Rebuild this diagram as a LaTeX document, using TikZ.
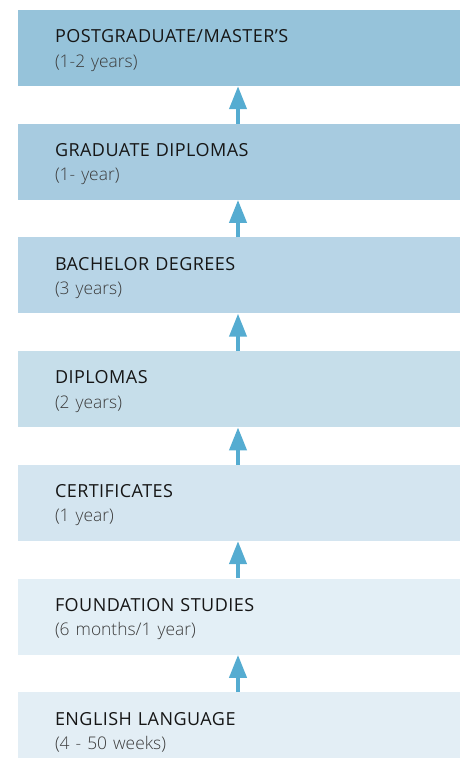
\documentclass[tikz,border=0pt]{standalone}
\usepackage{fontspec}
\setmainfont{Open Sans}[LetterSpace=2.5]
\newfontfamily\lightfont{Open Sans Light}
\usetikzlibrary{arrows.meta, positioning}
\definecolor{stageA}{HTML}{96C3DA}
\definecolor{stageB}{HTML}{A7CBE0}
\definecolor{stageC}{HTML}{B8D5E7}
\definecolor{stageD}{HTML}{C6DEEA}
\definecolor{stageE}{HTML}{D4E5F0}
\definecolor{stageF}{HTML}{E3EFF6}
\definecolor{stageG}{HTML}{E3EEF5}
\definecolor{arrowblue}{HTML}{55ACD1}
\definecolor{titletext}{HTML}{161616}
\definecolor{subtext}{HTML}{3C3C3C}
\tikzstyle{arrow} = [line width=4pt, draw=arrowblue, -{Triangle[width=17pt,length=23pt]}]
\tikzset{
stage/.style={rectangle, minimum width=442pt, minimum height=76pt, text width=368pt, inner xsep=37pt, inner ysep=0pt, align=left, text height=17pt, text depth=27.6pt, text=titletext, font=\fontsize{18}{24.3}\selectfont}
}
\newcommand{\dur}[1]{{\lightfont\color{subtext}\fontsize{17.4}{24.3}\selectfont #1}}

\begin{document}
\begin{tikzpicture}[x=1pt, y=1pt, node distance=37.33pt]
\useasboundingbox (0,0) rectangle (465,-758);
%----------------------------------------------------------------------------
% Placement of stage nodes
\node (postgrad) [stage, fill=stageA] at (239,-48) {POSTGRADUATE/MASTER'S\\ \dur{(1-2 years)}};
\node (graddip) [stage, fill=stageB, below=of postgrad] {GRADUATE DIPLOMAS\\ \dur{(1- year)}};
\node (bachelor) [stage, fill=stageC, below=of graddip] {BACHELOR DEGREES\\ \dur{(3 years)}};
\node (diploma) [stage, fill=stageD, below=of bachelor] {DIPLOMAS\\ \dur{(2 years)}};
\node (certif) [stage, fill=stageE, below=of diploma] {CERTIFICATES\\ \dur{(1 year)}};
\node (foundation) [stage, fill=stageF, below=of certif] {FOUNDATION STUDIES\\ \dur{(6 months/1 year)}};
\node (english) [stage, fill=stageG, below=of foundation] {ENGLISH LANGUAGE\\ \dur{(4 - 50 weeks)}};

%----------------------------------------------------------------------------
% Lines
\foreach \lower/\upper in {graddip/postgrad, bachelor/graddip, diploma/bachelor, certif/diploma, foundation/certif, english/foundation}
  \draw [arrow] ([xshift=-1pt]\lower.north) -- ([xshift=-1pt]\upper.south);

\end{tikzpicture}
\end{document}
